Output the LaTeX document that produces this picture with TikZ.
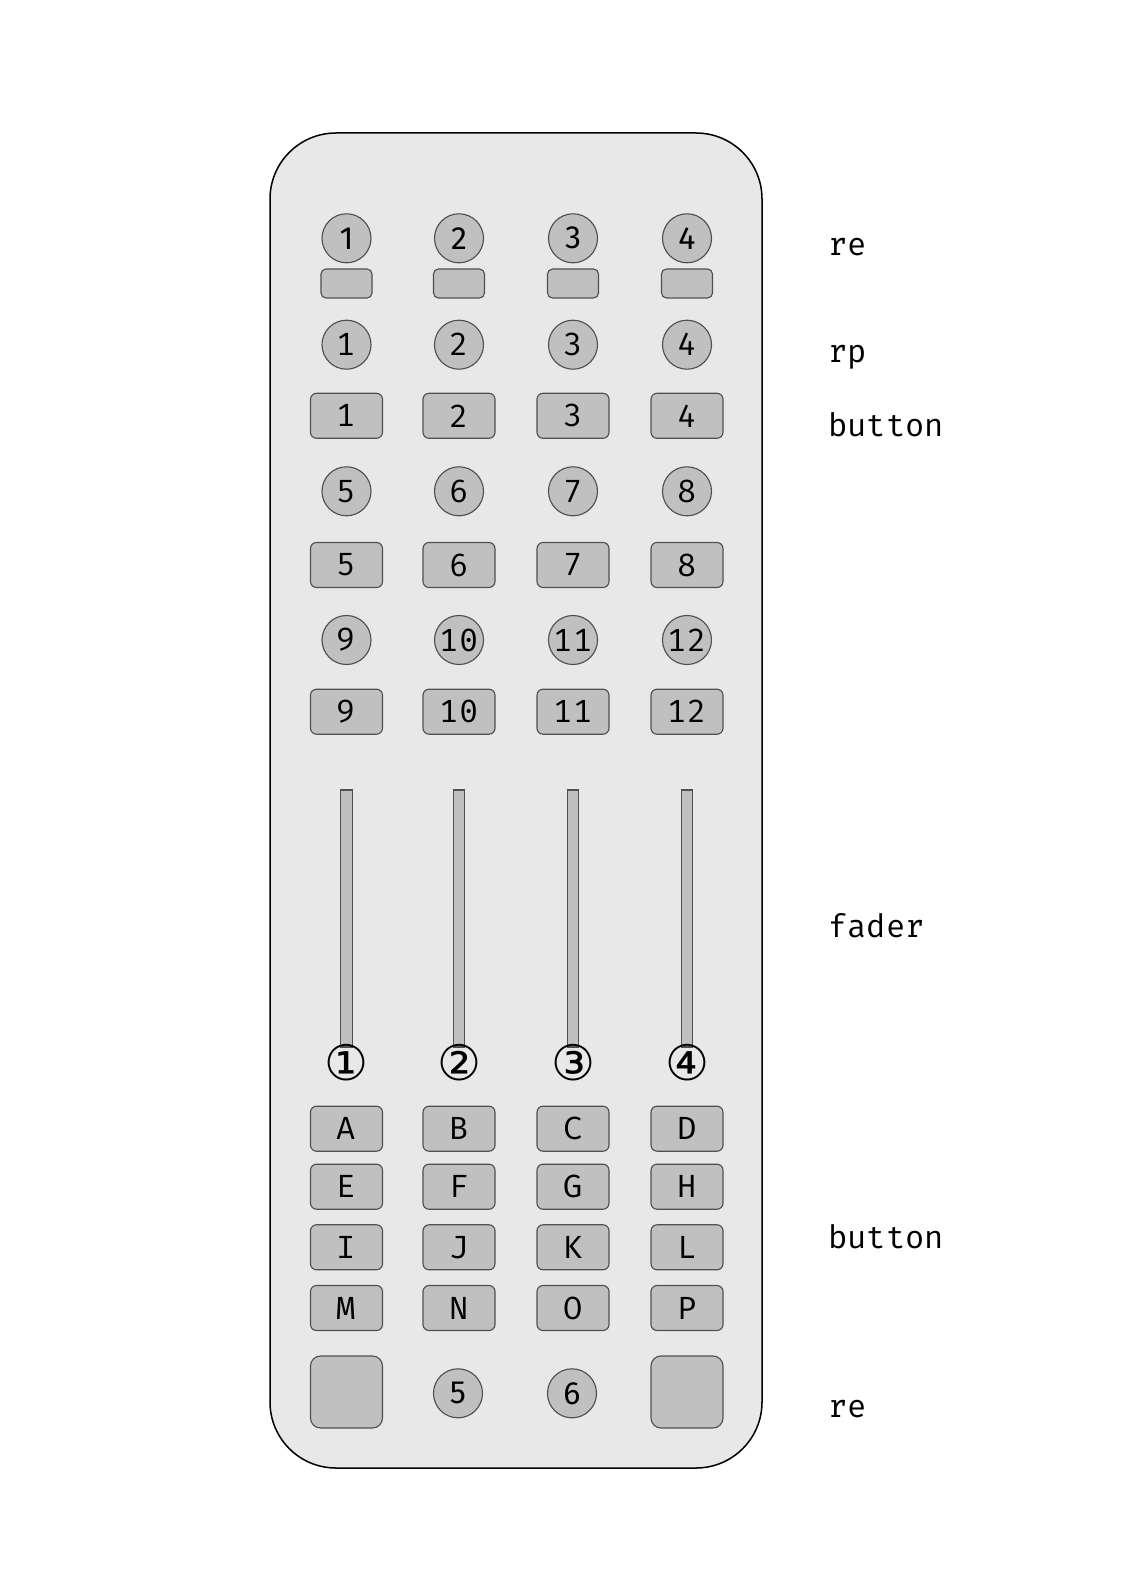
\documentclass[tikz,border=0pt]{standalone}
\usepackage{fontspec}
\setmainfont{Fira Sans}
\setmonofont{Fira Mono}
\newfontfamily\circfont{DejaVu Sans}
\newlength\pxu
\setlength\pxu{0.53008pt}
\definecolor{bodyfill}{HTML}{E8E8E8}
\definecolor{keyfill}{HTML}{C0C0C0}
\definecolor{keyline}{HTML}{505050}
\tikzset{
  bodybox/.style={draw=black, line width=0.8pt, fill=bodyfill, rounded corners={66*\pxu},
    minimum width={492*\pxu}, minimum height={1335*\pxu}, inner sep=0pt},
  knob/.style={circle, draw=keyline, line width=0.6pt, fill=keyfill, inner sep=0pt,
    minimum size={49*\pxu}, font=\fontsize{17}{20}\selectfont},
  knobsans/.style={knob, font=\rmfamily\fontsize{17}{20}\selectfont},
  knobmono/.style={knob, font=\ttfamily\fontsize{17}{20}\selectfont},
  smallkey/.style={rectangle, draw=keyline, line width=0.6pt, fill=keyfill, inner sep=0pt,
    rounded corners={5*\pxu}, minimum width={51*\pxu}, minimum height={29*\pxu}},
  keybox/.style={rectangle, draw=keyline, line width=0.6pt, fill=keyfill, inner sep=0pt,
    rounded corners={6*\pxu}, minimum width={72*\pxu}, minimum height={45*\pxu},
    font=\ttfamily\fontsize{17}{20}\selectfont},
  bigkey/.style={keybox, minimum height={72*\pxu}, rounded corners={10*\pxu}},
  faderbar/.style={rectangle, draw=keyline, line width=0.6pt, fill=keyfill, inner sep=0pt,
    minimum width={11.4*\pxu}, minimum height={257*\pxu}},
  fadernum/.style={inner sep=0pt, font=\circfont\fontsize{26}{28}\selectfont},
  sidelabel/.style={anchor=base west, inner sep=0pt, font=\ttfamily\fontsize{17}{20}\selectfont},
}
\begin{document}
\begin{tikzpicture}[x=0.53008pt, y=-0.53008pt]
\useasboundingbox (0,0) rectangle (1123,1588);
\node[bodybox] (body) at (516,800.5) {};
% columns
\foreach \c/\x in {1/346.5, 2/459, 3/573, 4/687} {
  % top rotary encoders with push pad
  \node[knobsans] (re\c) at (\x,238.3) {\c};
  \node[smallkey] (pad\c) at (\x,283.5) {};
  % rp knobs
  \node[knobmono] (rp\c) at (\x,344.7) {\c};
  % faders
  \node[faderbar] (fader\c) at (\x,918.5) {};
  \node[fadernum] (fn\c) at (\x,1063) {\ifcase\c\or ①\or ②\or ③\or ④\fi};
}
% button / knob grid
\foreach \c/\x in {1/346.5, 2/459, 3/573, 4/687} {
  \pgfmathtruncatemacro\nA{\c}
  \pgfmathtruncatemacro\nB{\c+4}
  \pgfmathtruncatemacro\nC{\c+8}
  \node[keybox] (b\nA) at (\x,415.8) {\nA};
  \node[knobmono] (k\nB) at (\x,491.3) {\nB};
  \node[keybox] (b\nB) at (\x,565) {\nB};
  \node[knobmono] (k\nC) at (\x,640) {\nC};
  \node[keybox] (b\nC) at (\x,711.7) {\nC};
}
% letter buttons
\foreach \l/\x/\y in {A/346.5/1128.7, B/459/1128.7, C/573/1128.7, D/687/1128.7,
                      E/346.5/1186.7, F/459/1186.7, G/573/1186.7, H/687/1186.7,
                      I/346.5/1247.3, J/459/1247.3, K/573/1247.3, L/687/1247.3,
                      M/346.5/1308, N/459/1308, O/573/1308, P/687/1308} {
  \node[keybox] (btn\l) at (\x,\y) {\l};
}
% bottom row
\node[bigkey] (bigL) at (346.5,1392) {};
\node[knobsans] (re5) at (458,1393.3) {5};
\node[knobsans] (re6) at (572,1393.3) {6};
\node[bigkey] (bigR) at (687,1392) {};
% side labels
\node[sidelabel] (lre) at (828,256) {re};
\node[sidelabel] (lrp) at (828,363) {rp};
\node[sidelabel] (lbtn) at (828,437) {button};
\node[sidelabel] (lfader) at (828,937.5) {fader};
\node[sidelabel] (lbtn2) at (828,1248.5) {button};
\node[sidelabel] (lre2) at (828,1417.5) {re};
\end{tikzpicture}
\end{document}
